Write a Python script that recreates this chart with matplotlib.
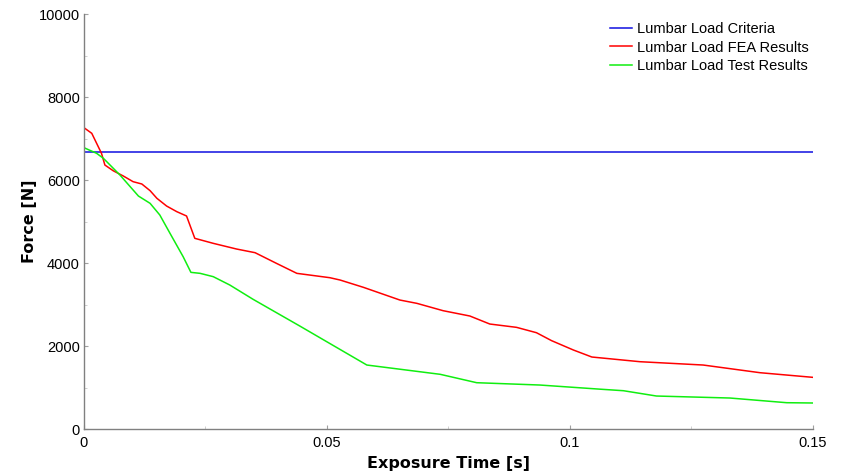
import matplotlib
matplotlib.use('Agg')
import matplotlib.pyplot as plt
from matplotlib.ticker import MultipleLocator

# lumbar load criteria (constant)
criteria_t = [0.0, 0.15]
criteria_f = [6672, 6672]

# FEA results
fea_t = [0.0, 0.0016, 0.0026, 0.0036, 0.0043, 0.0060, 0.0081, 0.0101, 0.0119,
         0.0136, 0.0150, 0.0170, 0.0191, 0.0211, 0.0228, 0.0266, 0.0314, 0.0352,
         0.0396, 0.0438, 0.0506, 0.0527, 0.0575, 0.0650, 0.0685, 0.0739, 0.0794,
         0.0835, 0.0890, 0.0931, 0.0962, 0.1007, 0.1045, 0.1144, 0.1274, 0.1391,
         0.1500]
fea_f = [7260, 7125, 6884, 6643, 6361, 6224, 6096, 5960, 5904,
         5743, 5559, 5373, 5237, 5133, 4595, 4474, 4337, 4249,
         3992, 3751, 3646, 3590, 3414, 3108, 3028, 2851, 2723,
         2530, 2450, 2321, 2130, 1904, 1735, 1622, 1542, 1357,
         1245]

# test results
test_t = [0.0, 0.0026, 0.0040, 0.0074, 0.0112, 0.0136, 0.0156, 0.0177, 0.0204,
          0.0220, 0.0239, 0.0266, 0.0300, 0.0348, 0.0444, 0.0582, 0.0733, 0.0808,
          0.0938, 0.1062, 0.1110, 0.1178, 0.1329, 0.1446, 0.1500]
test_f = [6779, 6643, 6522, 6120, 5614, 5438, 5157, 4715, 4153,
          3775, 3751, 3671, 3470, 3125, 2482, 1542, 1318, 1116,
          1060, 960, 923, 795, 747, 634, 627]

plt.rcParams['font.family'] = ['Liberation Sans', 'DejaVu Sans']

fig = plt.figure(figsize=(8.45, 4.75), dpi=100)
ax = fig.add_axes([0.0994, 0.0968, 0.8627, 0.8737])

ax.plot(criteria_t, criteria_f, color='#1010e0', linewidth=1.1, label='Lumbar Load Criteria')
ax.plot(fea_t, fea_f, color='#ff0000', linewidth=1.1, label='Lumbar Load FEA Results')
ax.plot(test_t, test_f, color='#10ee10', linewidth=1.1, label='Lumbar Load Test Results')

ax.set_xlim(0, 0.15)
ax.set_ylim(0, 10000)
ax.set_xticks([0, 0.05, 0.1, 0.15])
ax.set_xticklabels(['0', '0.05', '0.1', '0.15'])
ax.set_yticks([0, 2000, 4000, 6000, 8000, 10000])
ax.xaxis.set_minor_locator(MultipleLocator(0.025))
ax.yaxis.set_minor_locator(MultipleLocator(1000))

for s in ['top', 'right']:
    ax.spines[s].set_visible(False)
for s in ['left', 'bottom']:
    ax.spines[s].set_color('#808080')
    ax.spines[s].set_linewidth(1.0)

ax.tick_params(which='major', direction='in', length=3, color='#a0a0a0', labelsize=10.5)
ax.tick_params(which='minor', direction='in', length=2, color='#c8c8c8')
ax.tick_params(axis='y', which='major', pad=3)
ax.tick_params(axis='x', which='major', pad=5)

ax.set_xlabel('Exposure Time [s]', fontsize=11.5, fontweight='bold', labelpad=4,
              family='DejaVu Sans')
ax.set_ylabel('Force [N]', fontsize=11.5, fontweight='bold', labelpad=1,
              family='DejaVu Sans')

ax.legend(loc='upper right', frameon=False, fontsize=10.5, handlelength=1.5,
          handletextpad=0.35, labelspacing=0.3, bbox_to_anchor=(1.012, 1.012))

fig.savefig('out.png', dpi=100)
